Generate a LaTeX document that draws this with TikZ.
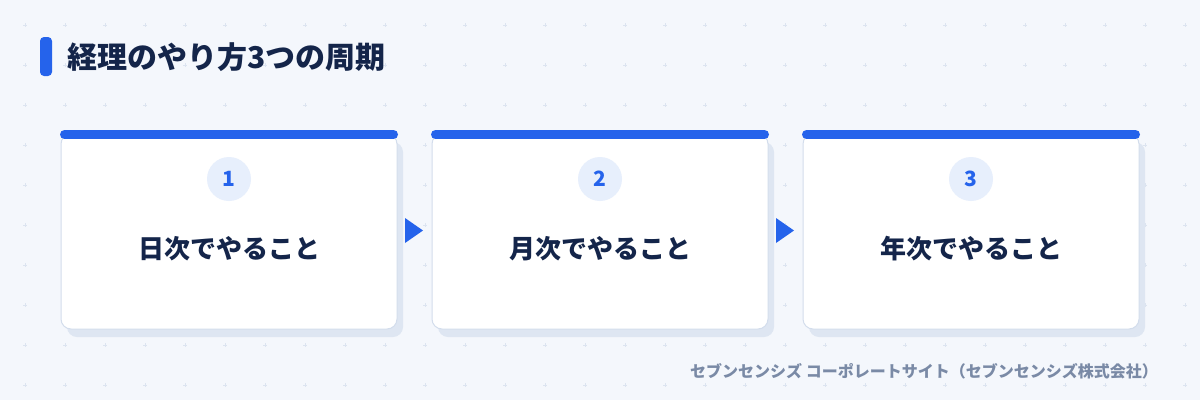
\documentclass[tikz,border=0pt]{standalone}
\usepackage{fontspec}
\newfontfamily\cjk{Noto Sans CJK JP}
\definecolor{bgpaper}{HTML}{F4F7FC}
\definecolor{gridmark}{HTML}{DCE4F0}
\definecolor{accent}{HTML}{2563EB}
\definecolor{navy}{HTML}{14254A}
\definecolor{cardline}{HTML}{D3DDEC}
\definecolor{cardshade}{HTML}{DEE6F2}
\definecolor{badge}{HTML}{E7EFFC}
\definecolor{footgrey}{HTML}{7A8AA6}

\begin{document}
\begin{tikzpicture}[x=1pt,y=-1pt,
    card/.style={draw=cardline,line width=1pt,fill=white,rounded corners=10pt},
    shade/.style={fill=cardshade,rounded corners=10pt},
    badgedot/.style={circle,fill=badge,minimum size=44pt,inner sep=0pt,text=accent,font=\cjk\bfseries\fontsize{21}{21}\selectfont},
    cardtext/.style={text=navy,font=\cjk\bfseries\fontsize{26}{26}\selectfont}]
        \useasboundingbox (0,0) rectangle (1200,400);
        \fill[bgpaper] (0,0) rectangle (1200,400);
        % faint grid of crosses
        \foreach \gx in {25,65,...,1185}
            \foreach \gy in {25,65,...,385}
                \draw[gridmark,line width=0.8pt] (\gx-2,\gy)--(\gx+2,\gy) (\gx,\gy-2)--(\gx,\gy+2);
        % title
        \fill[accent,rounded corners=4pt](40,37)rectangle(52,76);
        \node[anchor=west,inner sep=0pt,text=navy,font=\cjk\bfseries\fontsize{30}{30}\selectfont](title)at(67,57){経理のやり方3つの周期};
        % cards
        \foreach \n/\lab [count=\i from 0] in {1/日次でやること,2/月次でやること,3/年次でやること}{
            \begin{scope}[shift={(371*\i,0)}]
                \fill[shade](67,142)rectangle(403,337);
                \draw[card](61,134)rectangle(397,329);
                \draw[accent,line width=9pt,line cap=round](64.5,134.5)--(393.5,134.5);
                \node[badgedot](num\n)at(229,179){\n};
                \node[cardtext](lab\n)at(229,249){\lab};
            \end{scope}
        }
        % arrows between cards
        \fill[accent](405,218)--(423,230.5)--(405,243)--cycle;
        \fill[accent](776,218)--(794,230.5)--(776,243)--cycle;
        % footer
        \node[anchor=east,inner sep=0pt,text=footgrey,font=\cjk\bfseries\fontsize{16}{16}\selectfont](credit)at(1158,371){セブンセンシズ コーポレートサイト（セブンセンシズ株式会社）};
    \end{tikzpicture}
\end{document}
